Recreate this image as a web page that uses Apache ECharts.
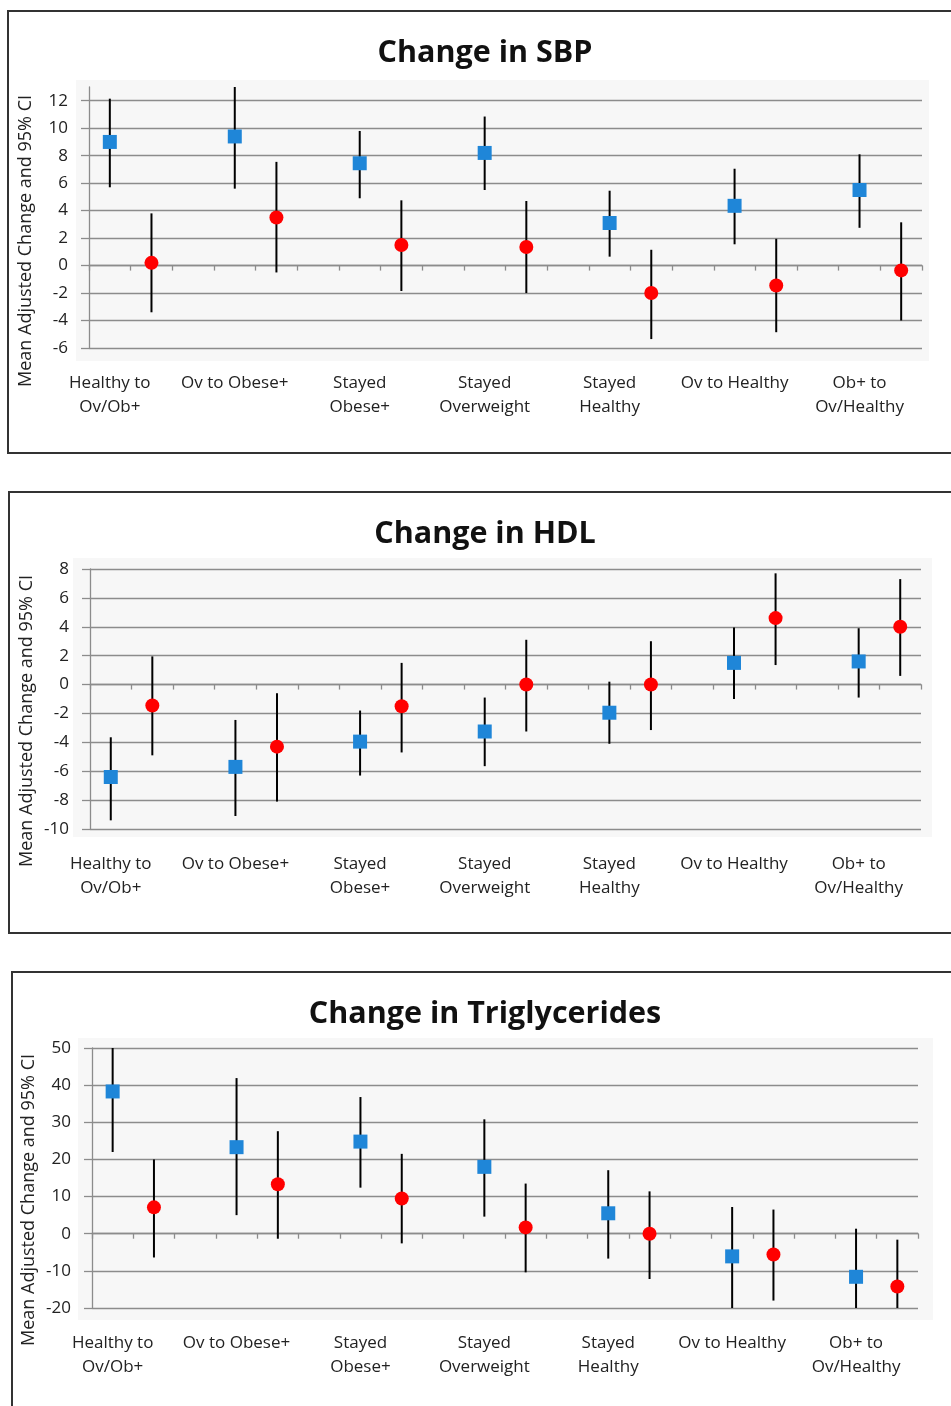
<!DOCTYPE html>
<html>
<head>
<meta charset="utf-8">
<script src="https://cdn.jsdelivr.net/npm/echarts@6/dist/echarts.min.js"></script>
<style>
  html, body { margin: 0; padding: 0; background: #fff; }
  #chart { width: 951px; height: 1406px; }
</style>
</head>
<body>
<div id="chart"></div>
<script>
// categories (labels sit under the blue marker of each group)
const groups = ['Healthy to\nOv/Ob+', 'Ov to Obese+', 'Stayed\nObese+', 'Stayed\nOverweight',
  'Stayed\nHealthy', 'Ov to Healthy', 'Ob+ to\nOv/Healthy'];

// Change in SBP
const sbpRange = [-6, 13, 2];
const sbpBlue = [9.0, 9.4, 7.45, 8.2, 3.1, 4.35, 5.5];
const sbpBlueLow = [5.7, 5.6, 4.9, 5.5, 0.65, 1.55, 2.75];
const sbpBlueHigh = [12.15, 13, 9.8, 10.85, 5.45, 7.05, 8.1];
const sbpRed = [0.2, 3.5, 1.5, 1.35, -2.0, -1.45, -0.35];
const sbpRedLow = [-3.4, -0.5, -1.85, -2.0, -5.35, -4.85, -4.0];
const sbpRedHigh = [3.8, 7.55, 4.75, 4.7, 1.15, 1.95, 3.15];

// Change in HDL
const hdlRange = [-10, 8, 2];
const hdlBlue = [-6.4, -5.7, -3.95, -3.25, -1.95, 1.5, 1.6];
const hdlBlueLow = [-9.4, -9.1, -6.3, -5.65, -4.1, -1.0, -0.9];
const hdlBlueHigh = [-3.65, -2.45, -1.8, -0.9, 0.2, 3.95, 3.9];
const hdlRed = [-1.45, -4.3, -1.5, 0.0, 0.0, 4.6, 4.0];
const hdlRedLow = [-4.9, -8.1, -4.7, -3.25, -3.15, 1.35, 0.6];
const hdlRedHigh = [1.95, -0.6, 1.5, 3.1, 3.0, 7.7, 7.3];

// Change in Triglycerides
const tgRange = [-20, 50, 10];
const tgBlue = [38.3, 23.3, 24.8, 18.0, 5.5, -6.1, -11.6];
const tgBlueLow = [22.0, 5.0, 12.4, 4.6, -6.7, -20, -20];
const tgBlueHigh = [50, 41.9, 36.8, 30.8, 17.1, 7.2, 1.35];
const tgRed = [7.1, 13.3, 9.5, 1.7, 0.0, -5.6, -14.2];
const tgRedLow = [-6.4, -1.35, -2.6, -10.4, -12.2, -18.0, -20];
const tgRedHigh = [20.0, 27.6, 21.5, 13.5, 11.4, 6.5, -1.6];

const yName = 'Mean Adjusted Change and 95% CI';
const font = 'Open Sans';
const gridColor = '#8c8c8c';

const panels = [
  { title: 'Change in SBP', range: sbpRange,
    blue: [sbpBlue, sbpBlueLow, sbpBlueHigh], red: [sbpRed, sbpRedLow, sbpRedHigh],
    box: [8, 11, 960, 442], bg: [76, 80, 853, 281], grid: [89, 87, 833, 261], titleTop: 33, name: [26, 241] },
  { title: 'Change in HDL', range: hdlRange,
    blue: [hdlBlue, hdlBlueLow, hdlBlueHigh], red: [hdlRed, hdlRedLow, hdlRedHigh],
    box: [9, 492, 960, 441], bg: [73, 558, 859, 279], grid: [90, 569, 831, 260], titleTop: 514, name: [27, 721] },
  { title: 'Change in Triglycerides', range: tgRange,
    blue: [tgBlue, tgBlueLow, tgBlueHigh], red: [tgRed, tgRedLow, tgRedHigh],
    box: [12, 972, 960, 460], bg: [78, 1038, 855, 282], grid: [92, 1048, 826, 260], titleTop: 994, name: [29, 1200] }
];

function groupLabel(v) {
  const i = (v - 0.5) / 3;
  const r = Math.round(i);
  if (Math.abs(i - r) < 1e-6 && r >= 0 && r < groups.length) return groups[r];
  return '';
}

function errorBar(params, api) {
  const x = api.value(0);
  const p1 = api.coord([x, api.value(1)]);
  const p2 = api.coord([x, api.value(2)]);
  return {
    type: 'line',
    shape: { x1: p1[0], y1: p1[1], x2: p2[0], y2: p2[1] },
    style: { stroke: '#000', lineWidth: 2 }
  };
}

const option = {
  animation: false,
  backgroundColor: '#fff',
  title: [], grid: [], xAxis: [], yAxis: [], series: [], graphic: []
};

panels.forEach(function (p, k) {
  const [min, max, step] = p.range;
  option.graphic.push({
    type: 'rect', z: -20, silent: true,
    shape: { x: p.box[0], y: p.box[1], width: p.box[2], height: p.box[3] },
    style: { fill: '#fff', stroke: '#333', lineWidth: 2 }
  });
  option.graphic.push({
    type: 'rect', z: -10, silent: true,
    shape: { x: p.bg[0], y: p.bg[1], width: p.bg[2], height: p.bg[3] },
    style: { fill: '#f7f7f7' }
  });
  option.graphic.push({
    type: 'text', x: p.name[0], y: p.name[1], rotation: Math.PI / 2, silent: true,
    style: { text: yName, fontFamily: font, fontSize: 18, fill: '#222', align: 'center', verticalAlign: 'middle' }
  });

  option.title.push({
    text: p.title, left: 480, top: p.titleTop, textAlign: 'center',
    textStyle: { fontFamily: font, fontWeight: 'bold', fontSize: 30.5, color: '#111' }
  });

  option.grid.push({ left: p.grid[0], top: p.grid[1], width: p.grid[2], height: p.grid[3] });

  // axis crossing at zero, with ticks
  option.xAxis.push({
    type: 'value', gridIndex: k, min: 0, max: 20, interval: 1, position: 'bottom',
    axisLine: { onZero: true, lineStyle: { color: gridColor, width: 1.3 } },
    axisTick: { show: true, length: 5, lineStyle: { color: gridColor, width: 1.3 } },
    axisLabel: { show: false }, splitLine: { show: false }
  });
  // group labels along the bottom
  option.xAxis.push({
    type: 'value', gridIndex: k, min: 0, max: 20, interval: 0.5, position: 'bottom',
    axisLine: { show: false, onZero: false }, axisTick: { show: false }, splitLine: { show: false },
    axisLabel: { margin: 23, fontFamily: font, fontSize: 17, lineHeight: 24, color: '#222', formatter: groupLabel }
  });

  option.yAxis.push({
    type: 'value', gridIndex: k, min: min, max: max, interval: step,
    axisLine: { show: true, onZero: false, lineStyle: { color: gridColor, width: 1.3 } },
    axisTick: { show: true, length: 8, lineStyle: { color: gridColor, width: 1.3 } },
    axisLabel: { margin: 21, fontFamily: font, fontSize: 17, color: '#222',
      showMaxLabel: (max - min) % step === 0 },
    splitLine: { show: true, showMaxLine: (max - min) % step === 0,
      lineStyle: { color: gridColor, width: 1.3 } }
  });

  const blueBars = p.blue[0].map((v, i) => [i * 3 + 0.5, p.blue[1][i], p.blue[2][i]]);
  const redBars = p.red[0].map((v, i) => [i * 3 + 1.5, p.red[1][i], p.red[2][i]]);
  option.series.push({
    type: 'custom', xAxisIndex: 2 * k, yAxisIndex: k, z: 3,
    renderItem: errorBar, encode: { x: 0, y: [1, 2] },
    data: blueBars.concat(redBars)
  });
  option.series.push({
    type: 'scatter', xAxisIndex: 2 * k, yAxisIndex: k, z: 4,
    symbol: 'rect', symbolSize: 14, itemStyle: { color: '#1f86d8', opacity: 1 },
    data: p.blue[0].map((v, i) => [i * 3 + 0.5, v])
  });
  option.series.push({
    type: 'scatter', xAxisIndex: 2 * k, yAxisIndex: k, z: 4,
    symbol: 'circle', symbolSize: 14, itemStyle: { color: '#ff0000', opacity: 1 },
    data: p.red[0].map((v, i) => [i * 3 + 1.5, v])
  });
});

const chart = echarts.init(document.getElementById('chart'));
chart.setOption(option);
</script>
</body>
</html>
